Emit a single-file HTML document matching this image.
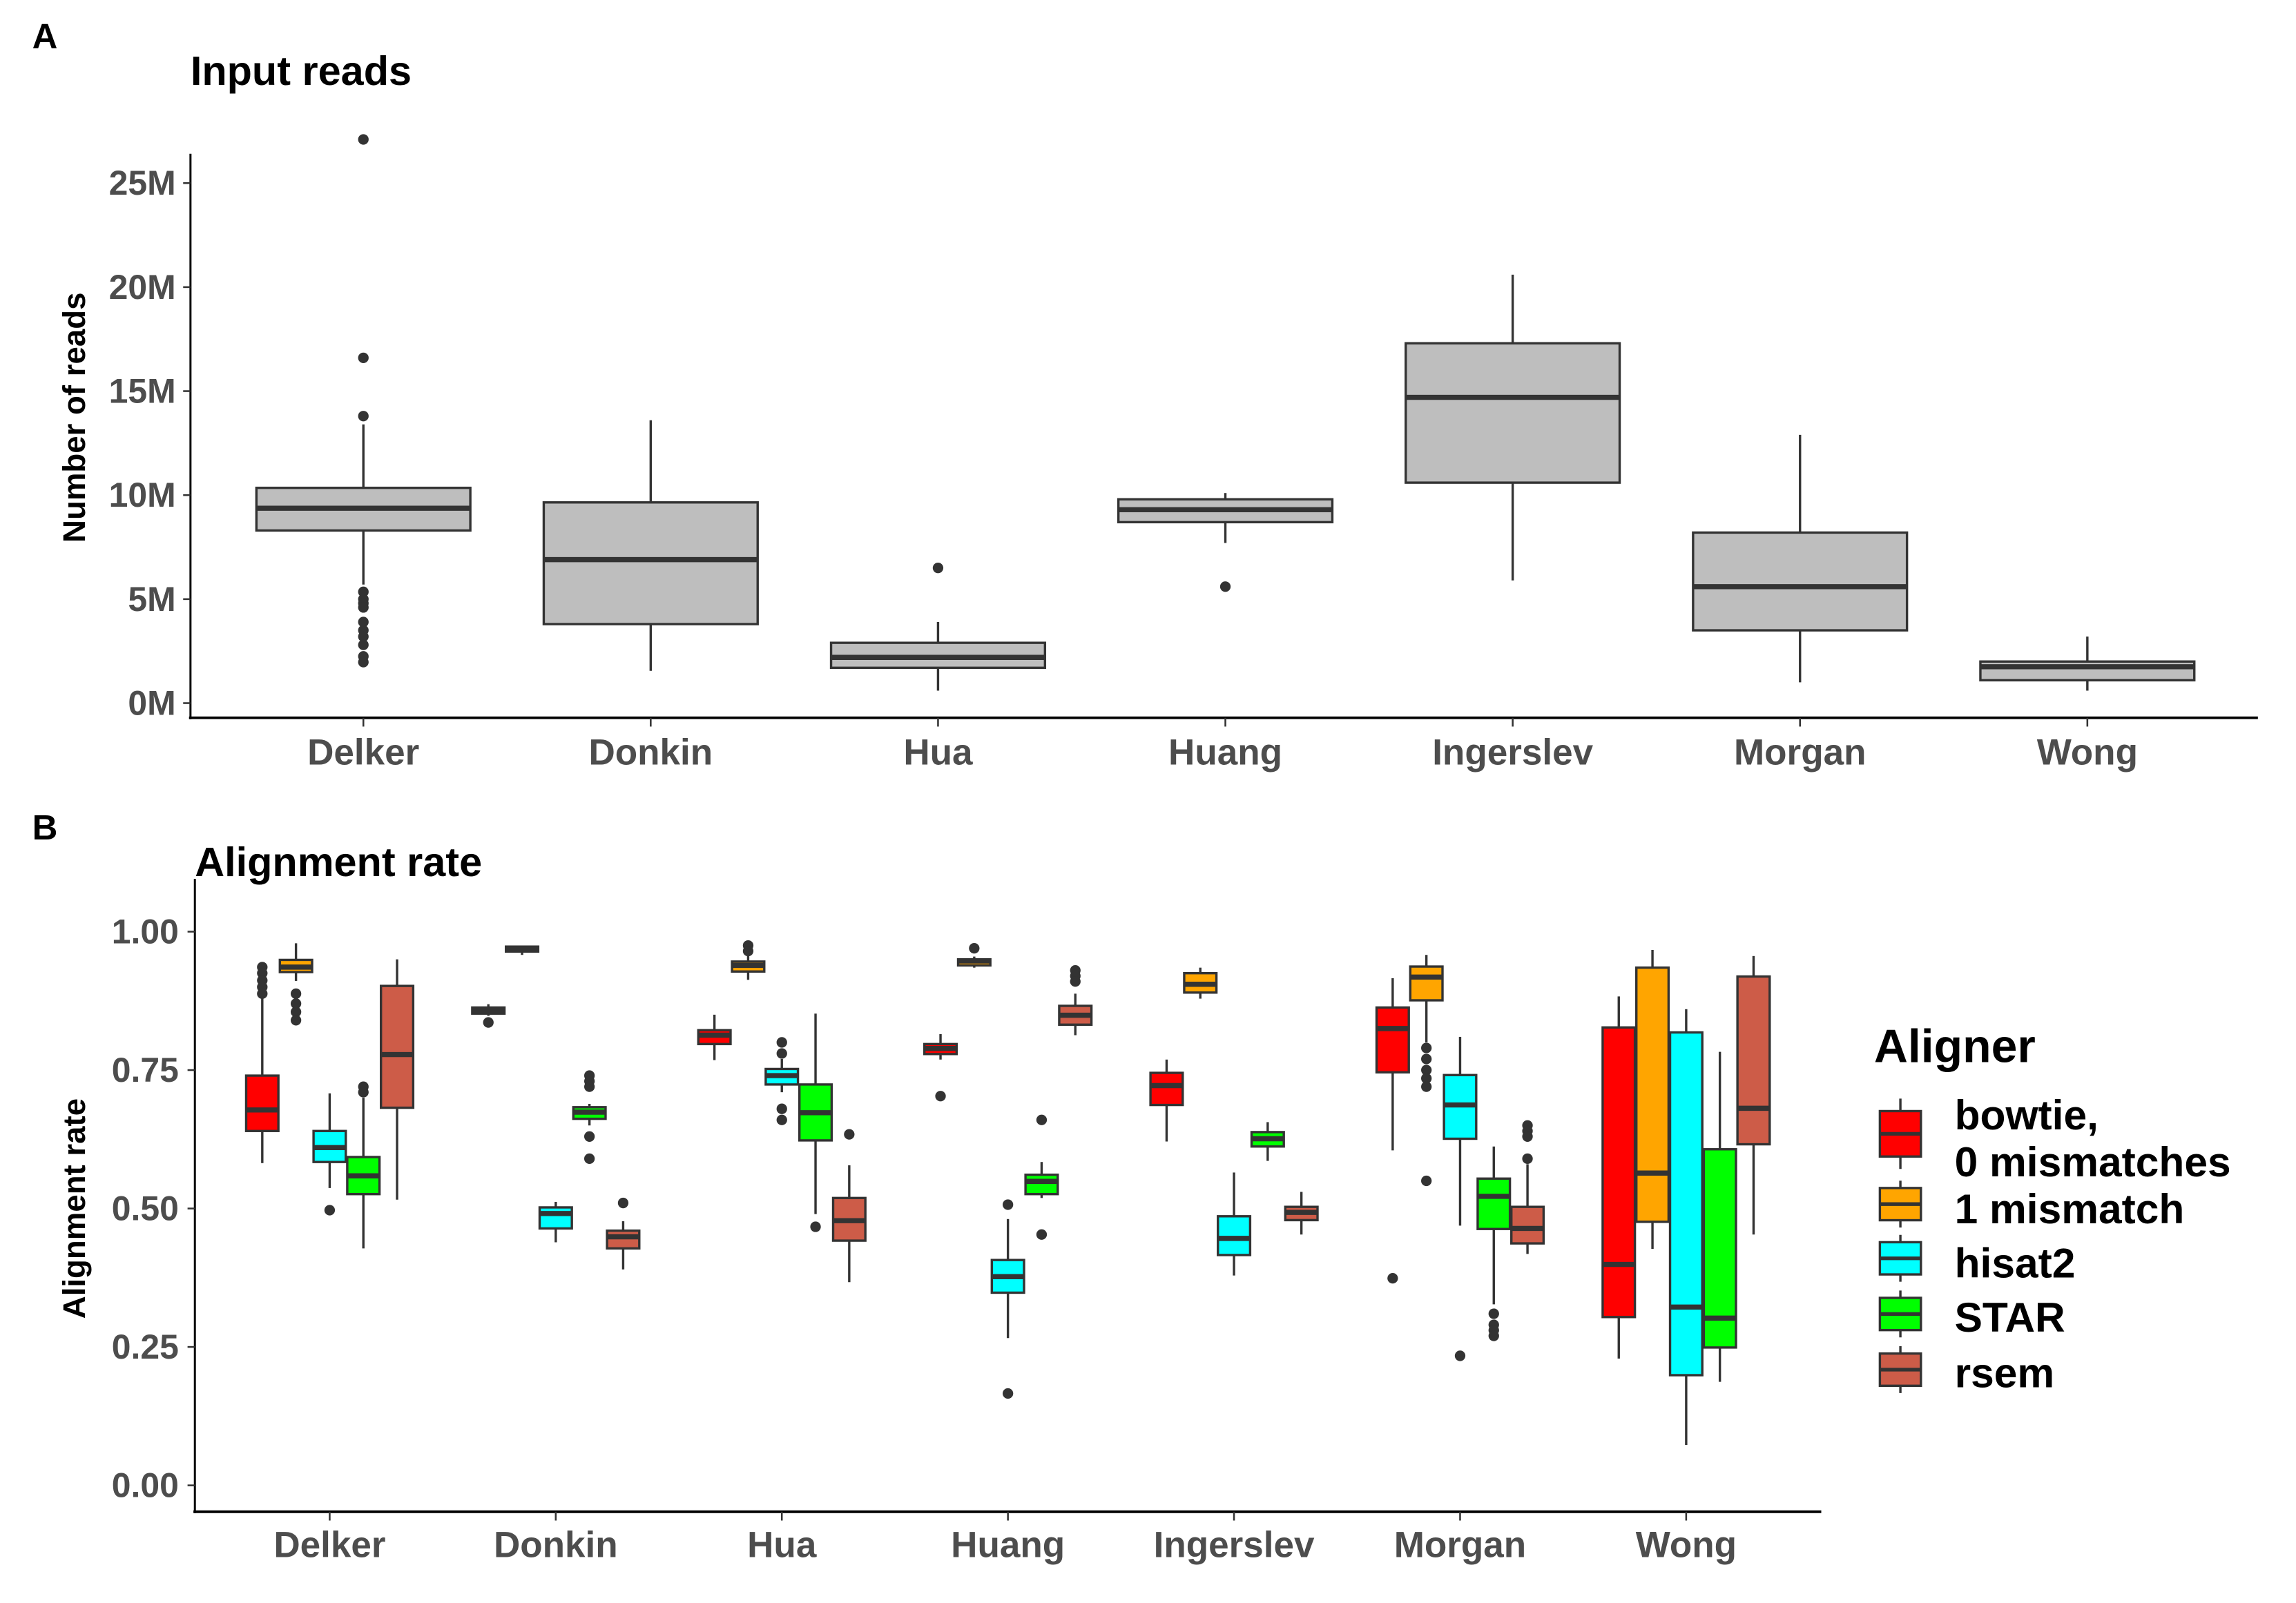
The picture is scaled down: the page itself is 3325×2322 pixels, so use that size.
<!DOCTYPE html>
<html><head><meta charset="utf-8">
<style>
html,body{margin:0;padding:0;background:#fff;}
svg{display:block;font-family:"Liberation Sans",Arial,sans-serif;font-weight:bold;}
</style></head>
<body>
<svg id="fig" width="3325" height="2322" viewBox="0 0 1567 1094.3" preserveAspectRatio="none" xmlns="http://www.w3.org/2000/svg">
  <rect x="0" y="0" width="1570" height="1100" fill="#fff"/>
  <text x="22" y="33" font-size="24" fill="#000">A</text>
  <text x="130" y="58" font-size="28" fill="#000">Input reads</text>
  <text transform="translate(58,285) rotate(-90)" text-anchor="middle" font-size="21.5" fill="#000">Number of reads</text>
  <g id="panelA"></g>
  <text x="22" y="573" font-size="24" fill="#000">B</text>
  <text x="133" y="598" font-size="28" fill="#000">Alignment rate</text>
  <text transform="translate(58,825) rotate(-90)" text-anchor="middle" font-size="21.5" fill="#000">Alignment rate</text>
  <g id="panelB"></g>
  <g id="legend"></g>
</svg>
<script>
// ---------- Panel A data (millions of reads) ----------
const catsA = ["Delker","Donkin","Hua","Huang","Ingerslev","Morgan","Wong"];
const aLow  = [5.7, 1.55, 0.6, 7.7, 5.9, 1.0, 0.6];
const aQ1   = [8.3, 3.8, 1.7, 8.7, 10.6, 3.5, 1.1];
const aMed  = [9.37, 6.9, 2.2, 9.3, 14.7, 5.6, 1.75];
const aQ3   = [10.35, 9.65, 2.9, 9.8, 17.3, 8.2, 2.0];
const aHigh = [13.4, 13.6, 3.9, 10.1, 20.6, 12.9, 3.2];
const aOut  = [[27.1,16.6,13.8,5.35,5.0,4.8,4.6,3.9,3.5,3.2,2.8,2.25,1.97],[],[6.5],[5.6],[],[],[]];
const aTicks = [0,5,10,15,20,25];
const aTickLabels = ["0M","5M","10M","15M","20M","25M"];

// ---------- Panel B data (alignment rate) ----------
const catsB = ["Delker","Donkin","Hua","Huang","Ingerslev","Morgan","Wong"];
const aligners = ["bowtie","1 mismatch","hisat2","STAR","rsem"];
const alignerColors = ["#FF0000","#FFA500","#00FFFF","#00FF00","#CD5C48"];
// per aligner, per category
const bLow  = [[0.582,0.848,0.768,0.769,0.621,0.605,0.229],[0.911,0.958,0.913,0.935,0.879,0.80,0.427],[0.537,0.439,0.71,0.266,0.379,0.469,0.073],[0.428,0.65,0.49,0.519,0.586,0.327,0.187],[0.516,0.39,0.367,0.813,0.453,0.418,0.453]];
const bQ1   = [[0.64,0.852,0.797,0.779,0.687,0.746,0.304],[0.927,0.964,0.928,0.939,0.89,0.876,0.476],[0.584,0.464,0.724,0.348,0.416,0.626,0.199],[0.526,0.662,0.623,0.526,0.612,0.463,0.249],[0.682,0.428,0.442,0.832,0.479,0.437,0.616]];
const bMed  = [[0.678,0.857,0.813,0.789,0.722,0.825,0.399],[0.936,0.969,0.939,0.947,0.905,0.918,0.564],[0.61,0.491,0.74,0.377,0.446,0.687,0.322],[0.559,0.674,0.673,0.549,0.626,0.522,0.302],[0.778,0.449,0.478,0.849,0.493,0.464,0.681]];
const bQ3   = [[0.74,0.863,0.822,0.797,0.745,0.863,0.827],[0.949,0.973,0.946,0.95,0.925,0.937,0.935],[0.64,0.502,0.752,0.407,0.486,0.741,0.818],[0.593,0.683,0.724,0.561,0.638,0.554,0.607],[0.902,0.46,0.519,0.866,0.503,0.503,0.919]];
const bHigh = [[0.88,0.869,0.85,0.815,0.769,0.916,0.883],[0.979,0.975,0.96,0.955,0.935,0.958,0.967],[0.708,0.512,0.77,0.481,0.565,0.81,0.86],[0.70,0.689,0.852,0.584,0.656,0.612,0.783],[0.95,0.477,0.578,0.888,0.53,0.58,0.956]];
const bOut  = [
  [[0.936,0.925,0.912,0.9,0.888],[0.836],[],[0.703],[],[0.374],[]],
  [[0.888,0.87,0.855,0.84],[],[0.975,0.965],[0.97],[],[0.79,0.77,0.75,0.735,0.72,0.55],[]],
  [[0.497],[],[0.80,0.78,0.68,0.66],[0.507,0.166],[],[0.234],[]],
  [[0.72,0.71],[0.74,0.73,0.72,0.63,0.59],[0.467],[0.66,0.453],[],[0.31,0.29,0.28,0.27],[]],
  [[],[0.51],[0.634],[0.93,0.92,0.91],[],[0.65,0.64,0.63,0.59],[]]
];
const bTicks = [0,0.25,0.5,0.75,1.0];
const bTickLabels = ["0.00","0.25","0.50","0.75","1.00"];

const NS = "http://www.w3.org/2000/svg";
function mk(parent, tag, attrs){
  const e = document.createElementNS(NS, tag);
  for (const k in attrs) e.setAttribute(k, attrs[k]);
  parent.appendChild(e);
  return e;
}
const DARK = "#333333";

function drawBox(g, cx, w, yf, lo, q1, med, q3, hi, outs, fill, name){
  const grp = mk(g, "g", {});
  
  
  mk(grp, "line", {x1:cx, x2:cx, y1:yf(hi), y2:yf(q3), stroke:DARK, "stroke-width":1.6});
  mk(grp, "line", {x1:cx, x2:cx, y1:yf(q1), y2:yf(lo), stroke:DARK, "stroke-width":1.6});
  mk(grp, "rect", {x:cx-w/2, y:yf(q3), width:w, height:Math.max(0.5, yf(q1)-yf(q3)), fill:fill, stroke:DARK, "stroke-width":1.6});
  mk(grp, "line", {x1:cx-w/2, x2:cx+w/2, y1:yf(med), y2:yf(med), stroke:DARK, "stroke-width":3.5});
  outs.forEach(v => {
    const c = mk(grp, "circle", {cx:cx, cy:yf(v), r:3.6, fill:DARK});
    
    
  });
}

// ---------- Panel A ----------
(function(){
  const g = document.getElementById("panelA");
  const yA = v => 480 - v*14.2;
  const xA = i => 248 + i*196.1;
  const ax = mk(g, "line", {x1:130, x2:130, y1:105, y2:491, stroke:"#000", "stroke-width":1.4});
  
  
  const bx = mk(g, "line", {x1:129, x2:1541, y1:490, y2:490, stroke:"#000", "stroke-width":1.8});
  
  
  aTicks.forEach((t,i) => {
    mk(g, "line", {x1:125, x2:130, y1:yA(t), y2:yA(t), stroke:"#333", "stroke-width":1.2});
    const tx = mk(g, "text", {x:120, y:yA(t)+8, "text-anchor":"end", "font-size":23.5, fill:"#4d4d4d"});
    tx.textContent = aTickLabels[i];
    
    
  });
  catsA.forEach((c,i) => {
    mk(g, "line", {x1:xA(i), x2:xA(i), y1:490, y2:496, stroke:"#333", "stroke-width":1.2});
    const tx = mk(g, "text", {x:xA(i), y:522, "text-anchor":"middle", "font-size":25, fill:"#4d4d4d"});
    tx.textContent = c;
    
    
    drawBox(g, xA(i), 146, yA, aLow[i], aQ1[i], aMed[i], aQ3[i], aHigh[i], aOut[i], "#BEBEBE", "box-" + c.toLowerCase());
  });
})();

// ---------- Panel B ----------
(function(){
  const g = document.getElementById("panelB");
  const yB = v => 1014 - v*378;
  const xB = i => 225 + i*154.3;
  const ax = mk(g, "line", {x1:133, x2:133, y1:600, y2:1033, stroke:"#000", "stroke-width":1.4});
  
  
  const bx = mk(g, "line", {x1:132, x2:1243, y1:1032, y2:1032, stroke:"#000", "stroke-width":1.8});
  
  
  bTicks.forEach((t,i) => {
    mk(g, "line", {x1:128, x2:133, y1:yB(t), y2:yB(t), stroke:"#333", "stroke-width":1.2});
    const tx = mk(g, "text", {x:122, y:yB(t)+8, "text-anchor":"end", "font-size":23.5, fill:"#4d4d4d"});
    tx.textContent = bTickLabels[i];
    
    
  });
  catsB.forEach((c,i) => {
    mk(g, "line", {x1:xB(i), x2:xB(i), y1:1032, y2:1038, stroke:"#333", "stroke-width":1.2});
    const tx = mk(g, "text", {x:xB(i), y:1063, "text-anchor":"middle", "font-size":25, fill:"#4d4d4d"});
    tx.textContent = c;
    
    
    aligners.forEach((a,k) => {
      const cx = xB(i) + (k-2)*23;
      drawBox(g, cx, 22, yB, bLow[k][i], bQ1[k][i], bMed[k][i], bQ3[k][i], bHigh[k][i], bOut[k][i], alignerColors[k], "box-" + c.toLowerCase() + "-" + a.replace(/\s+/g,'-').toLowerCase());
    });
  });
})();

// ---------- Legend ----------
(function(){
  const g = document.getElementById("legend");
  const t = mk(g, "text", {x:1279, y:725, "font-size":32, fill:"#000"});
  t.textContent = "Aligner";
  
  
  const keys = [
    {cy:774, h:31, wt:750, wb:798, lines:["bowtie,","0 mismatches"], ly:[771,803]},
    {cy:822, h:22, wt:806, wb:838, lines:["1 mismatch"], ly:[835]},
    {cy:859, h:22, wt:843, wb:875, lines:["hisat2"], ly:[872]},
    {cy:897, h:22, wt:881, wb:913, lines:["STAR"], ly:[909]},
    {cy:935, h:22, wt:919, wb:951, lines:["rsem"], ly:[947]}
  ];
  keys.forEach((k,i) => {
    const e = mk(g, "g", {});
    
    
    mk(e, "line", {x1:1297, x2:1297, y1:k.wt, y2:k.wb, stroke:DARK, "stroke-width":1.6});
    mk(e, "rect", {x:1283, y:k.cy-k.h/2, width:28, height:k.h, fill:alignerColors[i], stroke:DARK, "stroke-width":1.6});
    mk(e, "line", {x1:1283, x2:1311, y1:k.cy, y2:k.cy, stroke:DARK, "stroke-width":2.5});
    k.lines.forEach((s,j) => {
      const tx = mk(e, "text", {x:1334, y:k.ly[j], "font-size":28.5, fill:"#000"});
      tx.textContent = s;
    });
  });
})();
</script>
</body></html>
